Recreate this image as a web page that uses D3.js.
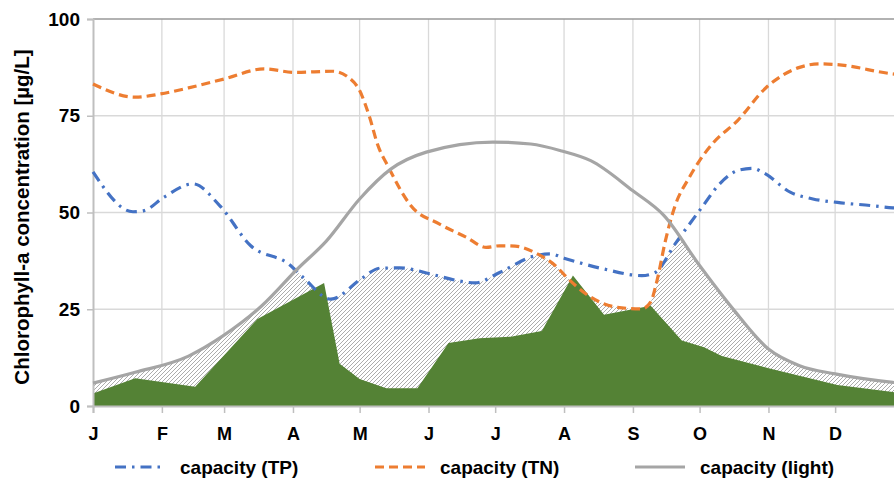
<!DOCTYPE html>
<html>
<head>
<meta charset="utf-8">
<script src="https://cdn.jsdelivr.net/npm/d3@7"></script>
<style>
  body { margin: 0; background: #fff; }
  text { font-family: "Liberation Sans", Arial, sans-serif; font-weight: bold; fill: #000; }
</style>
</head>
<body>
<svg id="chart"></svg>
<script>
// Month starts (day of year) and labels
const monthDays = [0, 31, 59, 90, 120, 151, 181, 212, 243, 273, 304, 334, 365];
const monthLabels = ["J", "F", "M", "A", "M", "J", "J", "A", "S", "O", "N", "D", ""];
const yTicks = [0, 25, 50, 75, 100];

// capacity (TP)
const tpDays = [0, 18, 23, 32, 45, 57, 71, 88, 95, 107, 121, 129, 138, 152, 164, 172, 183, 199, 206, 212, 230, 247, 253, 262, 274, 282, 291, 297, 302, 314, 324, 335, 350, 360, 365];
const tpVals = [60.5, 50.2, 50.5, 54, 57.4, 51.8, 41.4, 36.7, 33, 27.6, 33, 35.6, 35.7, 34.1, 32.4, 31.8, 34.5, 38.8, 39.3, 38.2, 35.4, 33.7, 34.5, 41.9, 51.3, 57.4, 61, 61.4, 60.2, 55.2, 53.5, 52.6, 51.8, 51.2, 51.0];

// capacity (TN)
const tnDays = [0, 19, 30, 43, 59, 77, 91, 108, 115, 120, 124.5, 128, 133, 143, 156, 168, 177, 183, 190, 200, 208, 214, 223, 236, 247, 251, 254, 257.5, 262, 268, 273, 279, 290, 303, 318, 327, 335, 360, 365];
const tnVals = [83.2, 79.8, 80.6, 82.2, 84.5, 87.1, 86.2, 86.5, 84.9, 81.5, 74.6, 67.7, 61.7, 51.8, 47, 43.6, 41, 41.4, 41.3, 39.3, 36.3, 32.8, 28.5, 25.5, 25.1, 26.9, 32.8, 42.4, 51.8, 58.7, 63.4, 67.9, 73.7, 82.3, 87.5, 88.4, 88.2, 85.8, 85.5];

// capacity (light)
const lightDays = [0, 19, 43, 59, 76, 92, 105, 120, 134, 150, 180, 197, 211, 224, 243, 257, 273, 288, 304, 318, 334, 360, 365];
const lightVals = [5.9, 8.7, 12.9, 18.3, 25.9, 35.4, 42.6, 53.5, 61.2, 65.6, 68.2, 67.7, 65.9, 63.4, 55.6, 49.2, 36.3, 25.1, 14.7, 10.4, 8.3, 6.1, 5.8];

// observed chlorophyll-a (green area)
const obsDays = [0, 19, 46, 74, 104, 111, 120, 132, 146, 160, 174, 188, 202, 216, 230, 251, 265, 275, 283, 305, 335, 360, 365];
const obsVals = [3.2, 7.2, 5.0, 22.5, 31.8, 10.9, 7.0, 4.6, 4.6, 16.3, 17.5, 17.9, 19.4, 33.7, 23.6, 25.9, 16.9, 15.2, 12.9, 9.6, 5.4, 3.6, 3.2];

const width = 894;
const height = 481;
const margin = { top: 19, right: -10, bottom: 75, left: 93 };

const svg = d3.select("#chart")
  .attr("width", width)
  .attr("height", height);

const x = d3.scaleLinear()
  .domain([0, 365])
  .range([margin.left, width - margin.right]);

const y = d3.scaleLinear()
  .domain([0, 100])
  .range([height - margin.bottom, margin.top]);

const zip = (days, vals) => days.map((d, i) => ({ day: d, v: vals[i] }));
const tp = zip(tpDays, tpVals);
const tn = zip(tnDays, tnVals);
const light = zip(lightDays, lightVals);
const obs = zip(obsDays, obsVals);

const line = d3.line().x(d => x(d.day)).y(d => y(d.v)).curve(d3.curveMonotoneX);
const areaSmooth = d3.area().x(d => x(d.day)).y0(y(0)).y1(d => y(d.v)).curve(d3.curveMonotoneX);
const areaStraight = d3.area().x(d => x(d.day)).y0(y(0)).y1(d => y(d.v));

const defs = svg.append("defs");

// hatch pattern
const pat = defs.append("pattern")
  .attr("id", "hatch")
  .attr("patternUnits", "userSpaceOnUse")
  .attr("width", 4)
  .attr("height", 4);
pat.append("rect").attr("width", 4).attr("height", 4).attr("fill", "#fff");
pat.append("path")
  .attr("d", "M-1,1 l2,-2 M0,4 l4,-4 M3,5 l2,-2")
  .attr("stroke", "#a3a3a3")
  .attr("stroke-width", 0.9);

// clip paths under each capacity curve
[["clipTP", tp], ["clipTN", tn], ["clipLight", light]].forEach(([id, data]) => {
  defs.append("clipPath").attr("id", id)
    .append("path").attr("d", areaSmooth(data));
});

// grid lines
svg.append("g")
  .selectAll("line")
  .data(yTicks.slice(1, -1))
  .enter()
  .append("line")
  .attr("x1", x(0)).attr("x2", width)
  .attr("y1", d => y(d)).attr("y2", d => y(d))
  .attr("stroke", "#d9d9d9").attr("stroke-width", 1.3);

svg.append("g")
  .selectAll("line")
  .data(monthDays.slice(1))
  .enter()
  .append("line")
  .attr("x1", d => x(d)).attr("x2", d => x(d))
  .attr("y1", y(100)).attr("y2", y(0))
  .attr("stroke", "#d9d9d9").attr("stroke-width", 1.3);

// hatched area = below all three capacities
svg.append("g").attr("clip-path", "url(#clipLight)")
  .append("g").attr("clip-path", "url(#clipTN)")
  .append("g").attr("clip-path", "url(#clipTP)")
  .append("rect")
  .attr("x", x(0)).attr("y", y(100))
  .attr("width", x(365) - x(0)).attr("height", y(0) - y(100))
  .attr("fill", "url(#hatch)");

// observed area
svg.append("path")
  .attr("d", areaStraight(obs))
  .attr("fill", "#548235");

// top border line
svg.append("line")
  .attr("x1", x(0)).attr("x2", width)
  .attr("y1", y(100)).attr("y2", y(100))
  .attr("stroke", "#999").attr("stroke-width", 1.5);

// axes
const xAxis = svg.append("g")
  .attr("transform", `translate(0,${y(0)})`)
  .call(d3.axisBottom(x).tickValues(monthDays).tickFormat((d, i) => monthLabels[i]).tickSize(7).tickPadding(14));
xAxis.select(".domain").attr("stroke", "#bfbfbf").attr("stroke-width", 2);
xAxis.selectAll(".tick line").attr("stroke", "#bfbfbf").attr("stroke-width", 1.5);
xAxis.selectAll("text").style("font-size", "18px").style("font-weight", "bold").attr("fill", "#000");

const yAxis = svg.append("g")
  .attr("transform", `translate(${x(0)},0)`)
  .call(d3.axisLeft(y).tickValues(yTicks).tickSize(6).tickPadding(7));
yAxis.select(".domain").attr("stroke", "#bfbfbf").attr("stroke-width", 2);
yAxis.selectAll(".tick line").attr("stroke", "#bfbfbf").attr("stroke-width", 1.5);
yAxis.selectAll("text").style("font-size", "19px").style("font-weight", "bold").attr("fill", "#000");

// capacity lines
const series = [
  { name: "capacity (TP)", data: tp, color: "#4472c4", dash: "11,6,2.5,6" },
  { name: "capacity (TN)", data: tn, color: "#ed7d31", dash: "9,5" },
  { name: "capacity (light)", data: light, color: "#a5a5a5", dash: null }
];

series.forEach(s => {
  svg.append("path")
    .attr("d", line(s.data))
    .attr("fill", "none")
    .attr("stroke", s.color)
    .attr("stroke-width", 3.2)
    .attr("stroke-dasharray", s.dash);
});

// y-axis label
svg.append("text")
  .attr("transform", "rotate(-90)")
  .attr("x", -217)
  .attr("y", 29)
  .attr("text-anchor", "middle")
  .style("font-size", "20.5px")
  .text("Chlorophyll-a concentration [µg/L]");

// legend
const legendX = [115, 375, 635];
const legend = svg.append("g").attr("transform", `translate(0,${467})`);
series.forEach((s, i) => {
  legend.append("line")
    .attr("x1", legendX[i]).attr("x2", legendX[i] + 50)
    .attr("y1", 0).attr("y2", 0)
    .attr("stroke", s.color)
    .attr("stroke-width", 3.2)
    .attr("stroke-dasharray", s.dash);
  legend.append("text")
    .attr("x", legendX[i] + 65)
    .attr("y", 7)
    .style("font-size", "19px")
    .text(s.name);
});
</script>
</body>
</html>
